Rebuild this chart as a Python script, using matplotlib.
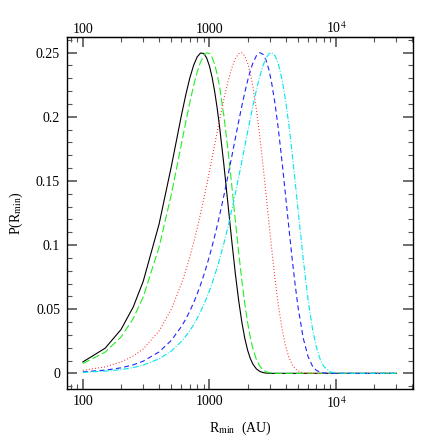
import numpy as np
import matplotlib
matplotlib.use('Agg')
import matplotlib.pyplot as plt
from matplotlib.ticker import MultipleLocator, LogLocator, NullFormatter, NullLocator

plt.rcParams['font.family'] = ['Liberation Serif', 'DejaVu Serif']
plt.rcParams['mathtext.fontset'] = 'stix'
plt.rcParams['lines.scale_dashes'] = False

# R_min grid (AU)
r_min = [100, 150, 200, 250, 300, 400, 500, 600, 650, 700,
         750, 800, 850, 900, 950, 1000, 1050, 1100, 1150, 1200,
         1300, 1400, 1500, 1600, 1700, 1800, 1900, 2000, 2100, 2200,
         2350, 2500, 2650, 2800, 2950, 3100, 3300, 3500, 3750, 4000,
         4250, 4500, 4750, 5000, 5500, 6000, 6500, 7000, 7500, 8000,
         9000, 10000, 15000, 20000, 30000]

p_black = [0.0089, 0.0196, 0.0341, 0.0517, 0.0718, 0.1163, 0.1613, 0.2009, 0.2171, 0.2303,
           0.2402, 0.2467, 0.2497, 0.2494, 0.2459, 0.2396, 0.2307, 0.2196, 0.2069, 0.1929,
           0.1627, 0.1321, 0.1034, 0.0781, 0.0570, 0.0403, 0.0275, 0.0182, 0.0117, 0.0073,
           0.0034, 0.0015, 0.0006, 0.0002, 0.0001, 0.0, 0.0, 0.0, 0.0, 0.0,
           0.0, 0.0, 0.0, 0.0, 0.0, 0.0, 0.0, 0.0, 0.0, 0.0,
           0.0, 0.0, 0.0, 0.0, 0.0]
p_green = [0.0077, 0.0165, 0.0283, 0.0427, 0.0596, 0.0983, 0.1395, 0.1785, 0.1959, 0.2113,
           0.2244, 0.2349, 0.2427, 0.2477, 0.2499, 0.2494, 0.2463, 0.2408, 0.2332, 0.2239,
           0.2009, 0.1743, 0.1466, 0.1195, 0.0947, 0.0729, 0.0546, 0.0398, 0.0282, 0.0195,
           0.0107, 0.0056, 0.0027, 0.0013, 0.0006, 0.0002, 0.0001, 0.0, 0.0, 0.0,
           0.0, 0.0, 0.0, 0.0, 0.0, 0.0, 0.0, 0.0, 0.0, 0.0,
           0.0, 0.0, 0.0, 0.0, 0.0]
p_red = [0.0024, 0.0050, 0.0088, 0.0135, 0.0190, 0.0330, 0.0501, 0.0696, 0.0801, 0.0909,
         0.1020, 0.1132, 0.1244, 0.1357, 0.1468, 0.1576, 0.1682, 0.1784, 0.1881, 0.1973,
         0.2138, 0.2274, 0.2380, 0.2453, 0.2492, 0.2499, 0.2474, 0.2420, 0.2341, 0.2240,
         0.2055, 0.1844, 0.1619, 0.1393, 0.1174, 0.0970, 0.0731, 0.0532, 0.0343, 0.0210,
         0.0123, 0.0068, 0.0037, 0.0019, 0.0004, 0.0001, 0.0, 0.0, 0.0, 0.0,
         0.0, 0.0, 0.0, 0.0, 0.0]
p_blue = [0.0012, 0.0025, 0.0043, 0.0066, 0.0095, 0.0167, 0.0257, 0.0364, 0.0423, 0.0485,
          0.0551, 0.0619, 0.0690, 0.0763, 0.0838, 0.0914, 0.0992, 0.1070, 0.1149, 0.1228,
          0.1386, 0.1541, 0.1689, 0.1831, 0.1962, 0.2082, 0.2188, 0.2280, 0.2357, 0.2417,
          0.2477, 0.2500, 0.2487, 0.2441, 0.2366, 0.2264, 0.2098, 0.1905, 0.1644, 0.1378,
          0.1124, 0.0894, 0.0692, 0.0522, 0.0276, 0.0133, 0.0058, 0.0023, 0.0009, 0.0003,
          0.0, 0.0, 0.0, 0.0, 0.0]
p_cyan = [0.0008, 0.0017, 0.0029, 0.0045, 0.0064, 0.0113, 0.0174, 0.0248, 0.0290, 0.0333,
          0.0380, 0.0429, 0.0480, 0.0533, 0.0588, 0.0645, 0.0703, 0.0763, 0.0824, 0.0886,
          0.1013, 0.1142, 0.1272, 0.1400, 0.1527, 0.1650, 0.1768, 0.1880, 0.1985, 0.2082,
          0.2210, 0.2317, 0.2400, 0.2458, 0.2491, 0.2500, 0.2475, 0.2412, 0.2288, 0.2122,
          0.1928, 0.1716, 0.1498, 0.1284, 0.0894, 0.0580, 0.0352, 0.0201, 0.0107, 0.0054,
          0.0011, 0.0002, 0.0, 0.0, 0.0]

x_ticks = [100, 1000, 10000]
x_labels = ['100', '1000', r'10$^4$']
y_ticks = [0, 0.05, 0.1, 0.15, 0.2, 0.25]
y_labels = ['0', '0.05', '0.1', '0.15', '0.2', '0.25']

fig = plt.figure(figsize=(4.36, 4.36), dpi=100)
ax = fig.add_axes([0.1537, 0.1078, 0.7935, 0.8073])

lw = 0.8
ax.plot(r_min, p_black, color='black', lw=lw)
ax.plot(r_min, p_green, color='#22ee22', lw=lw, dashes=(5.5, 2.2))
ax.plot(r_min, p_red, color='#ff3030', lw=lw, dashes=(0.7, 1.5))
ax.plot(r_min, p_blue, color='#2222ff', lw=lw, dashes=(3.6, 2.4))
ax.plot(r_min, p_cyan, color='#00e8e8', lw=lw, dashes=(4.0, 1.3, 0.7, 1.3))

ax.set_xscale('log')
ax.set_xlim(75, 40500)
ax.set_ylim(-0.0122, 0.2622)

ax.set_xticks(x_ticks, x_labels)
ax.xaxis.set_minor_locator(LogLocator(base=10, subs=np.arange(2, 10)))
ax.xaxis.set_minor_formatter(NullFormatter())
ax.set_yticks(y_ticks, y_labels)
ax.yaxis.set_minor_locator(MultipleLocator(0.01))

ax.tick_params(which='both', direction='in', top=True, right=True, labeltop=False,
               labelsize=10, color='#555555')
ax.tick_params(axis='x', pad=4.5)
ax.tick_params(axis='y', pad=5)
ax.tick_params(which='major', length=7, width=1.2)
ax.tick_params(which='minor', length=3.5, width=0.8)
for s in ax.spines.values():
    s.set_linewidth(1.0)

# labels along the top edge
top = ax.secondary_xaxis('top')
top.set_xticks(x_ticks, x_labels)
top.xaxis.set_minor_locator(NullLocator())
top.tick_params(which='both', length=0, pad=0.5, labelsize=10)

ax.set_xlabel(r'R$_{\rm min}$  (AU)', fontsize=10, labelpad=6)
ax.set_ylabel(r'P(R$_{\rm min}$)', fontsize=10, labelpad=8)

fig.savefig('out.png', dpi=100)
